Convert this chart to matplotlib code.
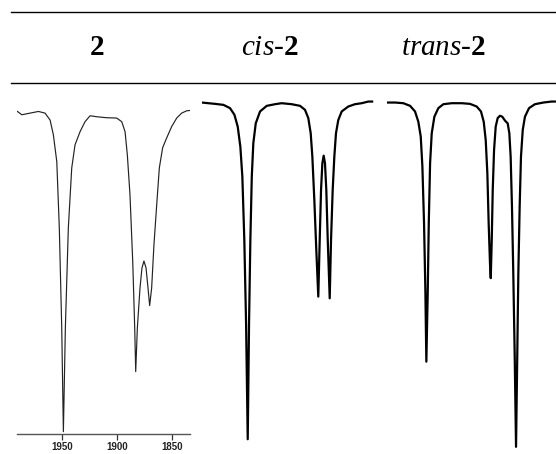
import matplotlib
matplotlib.use("Agg")
import matplotlib.pyplot as plt
from matplotlib.lines import Line2D

plt.rcParams['mathtext.fontset'] = 'custom'
plt.rcParams['mathtext.rm'] = 'Liberation Serif'
plt.rcParams['mathtext.it'] = 'Liberation Serif:italic'
plt.rcParams['mathtext.bf'] = 'Liberation Serif:bold'

# Spectrum of 2 (wavenumber cm-1, transmittance %)
wn_2 = [1990.6, 1986.6, 1979.1, 1971.5, 1965.5, 1960.9, 1957.9, 1954.8, 1952.5, 1950.3,
        1948.8, 1947.0, 1944.3, 1941.2, 1938.2, 1933.6, 1929.1, 1924.5, 1918.5, 1909.4,
        1900.3, 1895.7, 1892.7, 1890.6, 1888.2, 1885.7, 1883.9, 1883.0, 1881.5, 1879.1,
        1877.3, 1875.5, 1873.6, 1871.8, 1870.3, 1868.5, 1866.4, 1863.9, 1861.5, 1858.5,
        1854.8, 1850.3, 1845.7, 1841.2, 1836.6, 1833.6]
t_2 = [96.5, 95.5, 96.0, 96.5, 96.0, 93.9, 89.4, 81.3, 61.2, 30.9,
       -0.5, 30.9, 61.2, 79.4, 86.4, 90.4, 93.4, 95.2, 94.9, 94.6,
       94.5, 93.4, 90.4, 83.3, 71.2, 51.0, 30.9, 17.7, 30.9, 43.0,
       49.1, 51.2, 49.1, 43.0, 37.7, 43.0, 56.1, 68.2, 79.4, 85.5,
       88.5, 91.9, 94.5, 96.0, 96.7, 96.8]

# Spectrum of cis-2
wn_cis = [1991.2, 1985.2, 1979.1, 1971.5, 1965.5, 1961.5, 1958.5, 1956.1, 1954.3, 1952.5,
          1950.9, 1949.4, 1948.2, 1947.0, 1945.7, 1944.3, 1942.1, 1938.2, 1932.1, 1924.5,
          1918.5, 1909.4, 1901.8, 1897.3, 1894.3, 1892.1, 1890.6, 1888.8, 1887.0, 1885.2,
          1883.9, 1882.7, 1881.5, 1880.3, 1879.1, 1877.9, 1876.6, 1874.8, 1873.6, 1872.1,
          1870.6, 1869.1, 1867.0, 1863.9, 1857.9, 1851.8, 1845.7, 1839.7, 1835.2]
t_cis = [99.2, 99.0, 98.8, 98.5, 97.5, 95.5, 91.9, 85.8, 76.8, 57.6,
         32.3, -2.8, 32.3, 57.6, 76.8, 86.9, 92.9, 96.5, 98.2, 98.7,
         99.0, 98.7, 98.2, 97.0, 94.5, 89.9, 82.8, 69.7, 54.5, 40.4,
         57.6, 72.7, 80.8, 83.1, 80.8, 72.7, 57.6, 39.9, 57.6, 72.7,
         82.8, 89.9, 93.9, 96.5, 98.0, 98.7, 99.0, 99.5, 99.5]

# Spectrum of trans-2
wn_trans = [1991.2, 1983.6, 1976.1, 1970.0, 1965.5, 1962.5, 1960.3, 1958.8, 1957.3, 1956.1,
            1955.2, 1953.9, 1953.0, 1951.8, 1950.3, 1947.9, 1944.3, 1939.7, 1932.1, 1923.0,
            1915.5, 1909.4, 1905.5, 1903.0, 1901.2, 1899.7, 1898.5, 1897.3, 1896.6, 1895.7,
            1894.8, 1893.6, 1892.1, 1890.3, 1888.2, 1886.1, 1883.6, 1881.2, 1879.7, 1878.5,
            1877.3, 1876.1, 1874.8, 1873.6, 1872.5, 1871.5, 1870.3, 1869.1, 1867.5, 1865.5,
            1861.8, 1856.4, 1848.8, 1841.2, 1837.3]
t_trans = [99.2, 99.2, 99.0, 98.2, 96.5, 93.4, 88.9, 79.8, 62.6, 42.4,
           20.7, 42.4, 62.6, 80.8, 89.9, 94.9, 97.5, 98.7, 99.0, 99.0,
           98.8, 98.0, 96.5, 93.4, 87.9, 77.8, 62.6, 50.5, 46.0, 57.6,
           72.7, 84.8, 91.9, 94.5, 95.2, 94.9, 93.7, 92.9, 89.9, 82.8,
           67.7, 47.5, 22.2, -5.1, 22.2, 47.5, 67.7, 82.8, 90.9, 94.9,
           97.5, 98.7, 99.2, 99.5, 99.5]

tick_values = [1950, 1900, 1850]
tick_labels = ["1950", "1900", "1850"]
headers = [r"$\mathbf{2}$", r"$\mathit{cis}$-$\mathbf{2}$", r"$\mathit{trans}$-$\mathbf{2}$"]

W, H = 556, 454
fig = plt.figure(figsize=(W / 100, H / 100), dpi=100)

def rect(x0, x1, ytop, ybot):
    return [x0 / W, 1 - ybot / H, (x1 - x0) / W, (ybot - ytop) / H]

XLIM = (1991.0, 1833.6)

ax1 = fig.add_axes(rect(17, 190, 90, 434))
ax1.plot(wn_2, t_2, color="#222222", lw=0.85)
ax1.set_xlim(*XLIM)
ax1.set_ylim(-1.2, 103.0)
for s in ["top", "left", "right"]:
    ax1.spines[s].set_visible(False)
ax1.spines["bottom"].set_color("#555555")
ax1.spines["bottom"].set_linewidth(1.0)
ax1.set_yticks([])
ax1.set_xticks(tick_values)
ax1.set_xticklabels(tick_labels, fontsize=7, fontweight="bold", family="Liberation Sans",
                    color="#222222")
ax1.tick_params(axis="x", length=4, width=0.9, color="#333333", pad=2)
ax1.patch.set_alpha(0)

for left, wn, tt in [(202, wn_cis, t_cis), (387, wn_trans, t_trans)]:
    ax = fig.add_axes(rect(left, left + 173, 90, 452))
    ax.plot(wn, tt, color="black", lw=1.6, solid_capstyle="butt")
    ax.set_xlim(*XLIM)
    ax.set_ylim(-6.67, 103.0)
    ax.axis("off")

# header rules
fig.add_artist(Line2D([11 / W, 1.0], [1 - 12 / H, 1 - 12 / H], color="black", lw=1.0))
fig.add_artist(Line2D([11 / W, 1.0], [1 - 82.5 / H, 1 - 82.5 / H], color="black", lw=1.0))

for xc, txt in zip([97, 270, 443], headers):
    fig.text(xc / W, 1 - 48 / H, txt, ha="center", va="center", fontsize=21,
             family="Liberation Serif")

fig.savefig("out.png", dpi=100)
